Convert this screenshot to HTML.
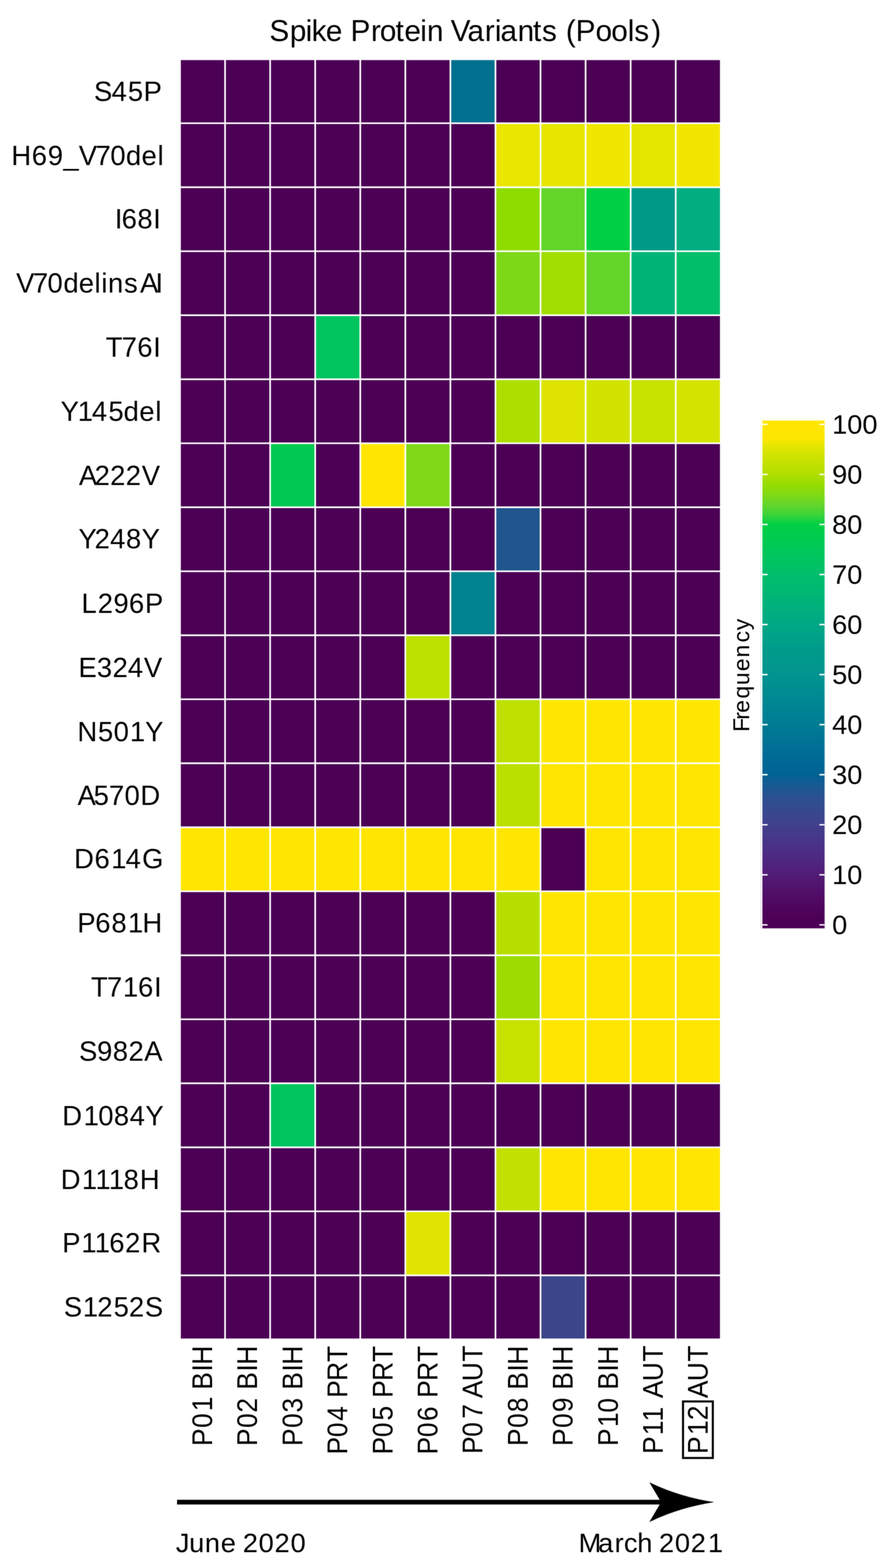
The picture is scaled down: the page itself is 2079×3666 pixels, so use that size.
<!DOCTYPE html>
<html lang="en">
<head>
<meta charset="utf-8">
<title>Spike Protein Variants (Pools)</title>
<style>
html,body{margin:0;padding:0;background:#fff;}
body{width:2079px;height:3666px;overflow:hidden;}
svg{display:block;}
text{font-family:"Liberation Sans",sans-serif;fill:#000;font-kerning:none;}
</style>
</head>
<body>
<svg width="2079" height="3666" viewBox="0 0 2079 3666">
<defs><filter id="soft" filterUnits="userSpaceOnUse" x="0" y="0" width="2079" height="3666" color-interpolation-filters="sRGB"><feConvolveMatrix order="3" kernelMatrix="1 2 1 2 4 2 1 2 1" divisor="16" edgeMode="duplicate" preserveAlpha="true"/></filter></defs>
<g filter="url(#soft)">
<rect x="-10" y="-10" width="2099" height="3686" fill="#fff"/>
<text x="629.99 677.64 714.70 728.68 761.99 800.64 819.85 867.40 888.27 925.07 945.79 982.85 998.42 1037.08 1053.97 1093.15 1133.65 1157.15 1170.60 1210.57 1246.57 1267.46 1302.21 1323.13 1346.15 1392.67 1429.52 1467.96 1483.36 1522.93" y="95.70" font-size="69.50">Spike Protein Variants (Pools)</text>
<g id="heatmap">
<rect x="420.95" y="138.46" width="1264.68" height="2992.92" fill="#4B0055"/>
<rect x="1053.29" y="138.46" width="105.39" height="149.65" fill="#00708F"/>
<rect x="1158.68" y="288.11" width="105.39" height="149.65" fill="#EBE600"/>
<rect x="1264.07" y="288.11" width="105.39" height="149.65" fill="#E6E600"/>
<rect x="1369.46" y="288.11" width="105.39" height="149.65" fill="#F0E600"/>
<rect x="1474.85" y="288.11" width="105.39" height="149.65" fill="#E4E600"/>
<rect x="1580.24" y="288.11" width="105.39" height="149.65" fill="#F2E600"/>
<rect x="1158.68" y="437.75" width="105.39" height="149.65" fill="#8FDC00"/>
<rect x="1264.07" y="437.75" width="105.39" height="149.65" fill="#64D62A"/>
<rect x="1369.46" y="437.75" width="105.39" height="149.65" fill="#00D045"/>
<rect x="1474.85" y="437.75" width="105.39" height="149.65" fill="#009987"/>
<rect x="1580.24" y="437.75" width="105.39" height="149.65" fill="#00AE80"/>
<rect x="1158.68" y="587.40" width="105.39" height="149.65" fill="#7DD918"/>
<rect x="1264.07" y="587.40" width="105.39" height="149.65" fill="#A2DE00"/>
<rect x="1369.46" y="587.40" width="105.39" height="149.65" fill="#64D62A"/>
<rect x="1474.85" y="587.40" width="105.39" height="149.65" fill="#00B478"/>
<rect x="1580.24" y="587.40" width="105.39" height="149.65" fill="#00BE6A"/>
<rect x="737.12" y="737.04" width="105.39" height="149.65" fill="#00C45E"/>
<rect x="1158.68" y="886.69" width="105.39" height="149.65" fill="#ADDE00"/>
<rect x="1264.07" y="886.69" width="105.39" height="149.65" fill="#DEE400"/>
<rect x="1369.46" y="886.69" width="105.39" height="149.65" fill="#D2E300"/>
<rect x="1474.85" y="886.69" width="105.39" height="149.65" fill="#C8E200"/>
<rect x="1580.24" y="886.69" width="105.39" height="149.65" fill="#D4E300"/>
<rect x="631.73" y="1036.34" width="105.39" height="149.65" fill="#00C850"/>
<rect x="842.51" y="1036.34" width="105.39" height="149.65" fill="#FFE600"/>
<rect x="947.90" y="1036.34" width="105.39" height="149.65" fill="#7FD919"/>
<rect x="1158.68" y="1185.98" width="105.39" height="149.65" fill="#20568E"/>
<rect x="1053.29" y="1335.63" width="105.39" height="149.65" fill="#008291"/>
<rect x="947.90" y="1485.27" width="105.39" height="149.65" fill="#BCE000"/>
<rect x="1158.68" y="1634.92" width="105.39" height="149.65" fill="#BEE000"/>
<rect x="1264.07" y="1634.92" width="105.39" height="149.65" fill="#FFE600"/>
<rect x="1369.46" y="1634.92" width="105.39" height="149.65" fill="#FFE600"/>
<rect x="1474.85" y="1634.92" width="105.39" height="149.65" fill="#FFE600"/>
<rect x="1580.24" y="1634.92" width="105.39" height="149.65" fill="#FFE600"/>
<rect x="1158.68" y="1784.57" width="105.39" height="149.65" fill="#BAE000"/>
<rect x="1264.07" y="1784.57" width="105.39" height="149.65" fill="#FFE600"/>
<rect x="1369.46" y="1784.57" width="105.39" height="149.65" fill="#FFE600"/>
<rect x="1474.85" y="1784.57" width="105.39" height="149.65" fill="#FFE600"/>
<rect x="1580.24" y="1784.57" width="105.39" height="149.65" fill="#FFE600"/>
<rect x="420.95" y="1934.21" width="105.39" height="149.65" fill="#FFE600"/>
<rect x="526.34" y="1934.21" width="105.39" height="149.65" fill="#FFE600"/>
<rect x="631.73" y="1934.21" width="105.39" height="149.65" fill="#FFE600"/>
<rect x="737.12" y="1934.21" width="105.39" height="149.65" fill="#FFE600"/>
<rect x="842.51" y="1934.21" width="105.39" height="149.65" fill="#FFE600"/>
<rect x="947.90" y="1934.21" width="105.39" height="149.65" fill="#FFE600"/>
<rect x="1053.29" y="1934.21" width="105.39" height="149.65" fill="#FFE600"/>
<rect x="1158.68" y="1934.21" width="105.39" height="149.65" fill="#FFE600"/>
<rect x="1369.46" y="1934.21" width="105.39" height="149.65" fill="#FFE600"/>
<rect x="1474.85" y="1934.21" width="105.39" height="149.65" fill="#FFE600"/>
<rect x="1580.24" y="1934.21" width="105.39" height="149.65" fill="#FFE600"/>
<rect x="1158.68" y="2083.86" width="105.39" height="149.65" fill="#B6DF00"/>
<rect x="1264.07" y="2083.86" width="105.39" height="149.65" fill="#FFE600"/>
<rect x="1369.46" y="2083.86" width="105.39" height="149.65" fill="#FFE600"/>
<rect x="1474.85" y="2083.86" width="105.39" height="149.65" fill="#FFE600"/>
<rect x="1580.24" y="2083.86" width="105.39" height="149.65" fill="#FFE600"/>
<rect x="1158.68" y="2233.50" width="105.39" height="149.65" fill="#9CDC00"/>
<rect x="1264.07" y="2233.50" width="105.39" height="149.65" fill="#FFE600"/>
<rect x="1369.46" y="2233.50" width="105.39" height="149.65" fill="#FFE600"/>
<rect x="1474.85" y="2233.50" width="105.39" height="149.65" fill="#FFE600"/>
<rect x="1580.24" y="2233.50" width="105.39" height="149.65" fill="#FFE600"/>
<rect x="1158.68" y="2383.15" width="105.39" height="149.65" fill="#C8E200"/>
<rect x="1264.07" y="2383.15" width="105.39" height="149.65" fill="#FFE600"/>
<rect x="1369.46" y="2383.15" width="105.39" height="149.65" fill="#FFE600"/>
<rect x="1474.85" y="2383.15" width="105.39" height="149.65" fill="#FFE600"/>
<rect x="1580.24" y="2383.15" width="105.39" height="149.65" fill="#FFE600"/>
<rect x="631.73" y="2532.80" width="105.39" height="149.65" fill="#00C45E"/>
<rect x="1158.68" y="2682.44" width="105.39" height="149.65" fill="#C2E100"/>
<rect x="1264.07" y="2682.44" width="105.39" height="149.65" fill="#FFE600"/>
<rect x="1369.46" y="2682.44" width="105.39" height="149.65" fill="#FFE600"/>
<rect x="1474.85" y="2682.44" width="105.39" height="149.65" fill="#FFE600"/>
<rect x="1580.24" y="2682.44" width="105.39" height="149.65" fill="#FFE600"/>
<rect x="947.90" y="2832.09" width="105.39" height="149.65" fill="#E0E400"/>
<rect x="1264.07" y="2981.73" width="105.39" height="149.65" fill="#3B468B"/>
<path d="M420.95 134.56V3135.28M526.34 134.56V3135.28M631.73 134.56V3135.28M737.12 134.56V3135.28M842.51 134.56V3135.28M947.90 134.56V3135.28M1053.29 134.56V3135.28M1158.68 134.56V3135.28M1264.07 134.56V3135.28M1369.46 134.56V3135.28M1474.85 134.56V3135.28M1580.24 134.56V3135.28M1685.63 134.56V3135.28M417.05 138.46H1689.53M417.05 288.11H1689.53M417.05 437.75H1689.53M417.05 587.40H1689.53M417.05 737.04H1689.53M417.05 886.69H1689.53M417.05 1036.34H1689.53M417.05 1185.98H1689.53M417.05 1335.63H1689.53M417.05 1485.27H1689.53M417.05 1634.92H1689.53M417.05 1784.57H1689.53M417.05 1934.21H1689.53M417.05 2083.86H1689.53M417.05 2233.50H1689.53M417.05 2383.15H1689.53M417.05 2532.80H1689.53M417.05 2682.44H1689.53M417.05 2832.09H1689.53M417.05 2981.73H1689.53M417.05 3131.38H1689.53" fill="none" stroke="#fff" stroke-width="3.90"/>
</g>
<g id="ylabels" font-size="64.20">
<text x="219.86 261.01 299.00 335.86" y="236.00">S45P</text>
<text x="26.42 74.35 111.78 148.30 184.15 223.30 257.92 294.52 331.06 368.45" y="385.70">H69_V70del</text>
<text x="268.38 284.48 321.20 358.28" y="534.05">I68I</text>
<text x="37.74 76.89 111.11 148.37 184.25 221.12 237.07 252.39 290.00 327.44 363.42" y="683.85">V70delinsAI</text>
<text x="247.37 284.62 321.04 358.31" y="834.05">T76I</text>
<text x="141.80 181.84 214.85 253.46 288.94 325.78 363.21" y="984.05">Y145del</text>
<text x="184.48 221.25 257.42 294.02 331.54" y="1134.05">A222V</text>
<text x="183.59 221.25 257.44 294.47 331.36" y="1282.30">Y248Y</text>
<text x="190.49 228.40 265.29 301.39 338.90" y="1432.50">L296P</text>
<text x="183.59 226.53 263.22 298.96 336.45" y="1582.50">E324V</text>
<text x="181.09 228.91 265.72 303.63 339.13" y="1732.50">N501Y</text>
<text x="181.27 218.91 254.71 291.17 328.22" y="1882.30">A570D</text>
<text x="173.31 221.04 259.88 293.78 332.33" y="2030.35">D614G</text>
<text x="180.86 222.82 260.54 299.16 333.05" y="2179.90">P681H</text>
<text x="212.82 249.97 287.56 322.82 360.37" y="2330.10">T716I</text>
<text x="184.68 227.07 263.75 300.45 337.34" y="2480.10">S982A</text>
<text x="145.45 195.59 229.74 266.34 303.15 340.02" y="2630.55">D1084Y</text>
<text x="141.88 191.48 223.27 254.52 289.11 326.89" y="2779.95">D1118H</text>
<text x="145.60 190.23 221.48 255.41 292.50 330.85" y="2928.15">P1162R</text>
<text x="149.23 193.81 227.50 265.78 301.61 338.69" y="3078.30">S1252S</text>
</g>
<g id="xlabels" font-size="61.60">
<text transform="translate(496.04,0) rotate(-90) scale(1,1.0747)" x="-3380.75 -3338.63 -3299.60 -3265.35 -3248.90 -3206.66 -3190.71" y="0">P01 BIH</text>
<text transform="translate(601.43,0) rotate(-90) scale(1,1.0747)" x="-3380.75 -3338.63 -3302.68 -3268.42 -3248.90 -3206.66 -3190.71" y="0">P02 BIH</text>
<text transform="translate(706.82,0) rotate(-90) scale(1,1.0747)" x="-3380.75 -3338.63 -3302.50 -3268.24 -3248.90 -3206.66 -3190.71" y="0">P03 BIH</text>
<text transform="translate(812.22,0) rotate(-90) scale(1,1.0747)" x="-3400.60 -3360.08 -3321.93 -3287.67 -3268.10 -3228.39 -3184.45" y="0">P04 PRT</text>
<text transform="translate(917.60,0) rotate(-90) scale(1,1.0747)" x="-3400.60 -3360.08 -3321.37 -3287.11 -3268.10 -3228.39 -3184.45" y="0">P05 PRT</text>
<text transform="translate(1023.00,0) rotate(-90) scale(1,1.0747)" x="-3400.60 -3360.08 -3322.39 -3288.13 -3268.10 -3228.39 -3184.45" y="0">P06 PRT</text>
<text transform="translate(1128.38,0) rotate(-90) scale(1,1.0747)" x="-3399.20 -3359.33 -3317.06 -3282.80 -3268.79 -3229.29 -3183.45" y="0">P07 AUT</text>
<text transform="translate(1233.78,0) rotate(-90) scale(1,1.0747)" x="-3380.75 -3338.63 -3301.73 -3267.47 -3248.90 -3206.66 -3190.71" y="0">P08 BIH</text>
<text transform="translate(1339.17,0) rotate(-90) scale(1,1.0747)" x="-3380.75 -3338.63 -3301.46 -3267.21 -3248.90 -3206.66 -3190.71" y="0">P09 BIH</text>
<text transform="translate(1444.56,0) rotate(-90) scale(1,1.0747)" x="-3380.75 -3336.60 -3302.88 -3268.62 -3248.90 -3206.66 -3190.71" y="0">P10 BIH</text>
<text transform="translate(1549.95,0) rotate(-90) scale(1,1.0747)" x="-3399.20 -3355.50 -3323.40 -3289.15 -3268.79 -3229.29 -3183.45" y="0">P11 AUT</text>
<text transform="translate(1655.34,0) rotate(-90) scale(1,1.0747)" x="-3399.20 -3355.10 -3320.38 -3286.12 -3268.79 -3229.29 -3183.45" y="0">P12 AUT</text>
<rect x="1597.3" y="3276.6" width="69.7" height="132.2" fill="none" stroke="#000" stroke-width="4.8"/>
</g>
<defs><linearGradient id="cb" gradientUnits="userSpaceOnUse" x1="0" y1="2162.30" x2="0" y2="992.20">
<stop offset="0.0000" stop-color="#4B0055"/>
<stop offset="0.0300" stop-color="#4E025A"/>
<stop offset="0.0500" stop-color="#500A63"/>
<stop offset="0.1000" stop-color="#521C76"/>
<stop offset="0.1500" stop-color="#4C2E86"/>
<stop offset="0.2000" stop-color="#41408D"/>
<stop offset="0.2500" stop-color="#2E4F90"/>
<stop offset="0.2800" stop-color="#165A92"/>
<stop offset="0.3000" stop-color="#006294"/>
<stop offset="0.3500" stop-color="#006E96"/>
<stop offset="0.4000" stop-color="#007C94"/>
<stop offset="0.4500" stop-color="#008892"/>
<stop offset="0.5000" stop-color="#009490"/>
<stop offset="0.5500" stop-color="#009B8B"/>
<stop offset="0.6000" stop-color="#00A886"/>
<stop offset="0.6500" stop-color="#00B478"/>
<stop offset="0.7000" stop-color="#00BE6C"/>
<stop offset="0.7500" stop-color="#00C858"/>
<stop offset="0.8000" stop-color="#00D045"/>
<stop offset="0.8200" stop-color="#3CD438"/>
<stop offset="0.8400" stop-color="#64D62A"/>
<stop offset="0.8600" stop-color="#80DA14"/>
<stop offset="0.8800" stop-color="#98DC00"/>
<stop offset="0.9000" stop-color="#B0DF00"/>
<stop offset="0.9500" stop-color="#DCE400"/>
<stop offset="0.9630" stop-color="#EEE600"/>
<stop offset="0.9730" stop-color="#FFE600"/>
<stop offset="1.0000" stop-color="#FFE600"/>
</linearGradient></defs>
<g id="colorbar">
<rect x="1777.50" y="977.90" width="152.80" height="1193.50" fill="url(#cb)" opacity="0.09"/>
<rect x="1781.70" y="982.10" width="146.60" height="1188.30" fill="#fff"/>
<rect x="1783.00" y="983.40" width="145.30" height="1187.00" fill="url(#cb)"/>
<path d="M1783.00 2162.30h12M1928.30 2162.30h-12M1783.00 2045.29h12M1928.30 2045.29h-12M1783.00 1928.28h12M1928.30 1928.28h-12M1783.00 1811.27h12M1928.30 1811.27h-12M1783.00 1694.26h12M1928.30 1694.26h-12M1783.00 1577.25h12M1928.30 1577.25h-12M1783.00 1460.24h12M1928.30 1460.24h-12M1783.00 1343.23h12M1928.30 1343.23h-12M1783.00 1226.22h12M1928.30 1226.22h-12M1783.00 1109.21h12M1928.30 1109.21h-12M1783.00 992.20h12M1928.30 992.20h-12" fill="none" stroke="#fff" stroke-width="3.3"/>
<g font-size="63.60">
<text x="1946.0" y="2184.20">0</text>
<text x="1946.0" y="2067.19">10</text>
<text x="1946.0" y="1950.18">20</text>
<text x="1946.0" y="1833.17">30</text>
<text x="1946.0" y="1716.16">40</text>
<text x="1946.0" y="1599.15">50</text>
<text x="1946.0" y="1482.14">60</text>
<text x="1946.0" y="1365.13">70</text>
<text x="1946.0" y="1248.12">80</text>
<text x="1946.0" y="1131.11">90</text>
<text x="1946.0" y="1014.10">100</text>
</g>
<text transform="translate(1752.20,0) rotate(-90)" x="-1711.35 -1682.66 -1666.60 -1633.32 -1601.67 -1569.15 -1537.34 -1502.03 -1473.61" y="0" font-size="53.60">Frequency</text>
</g>
<g id="timeline">
<line x1="414" y1="3512.0" x2="1555" y2="3512.0" stroke="#000" stroke-width="10.9"/>
<path d="M1670.6 3512.1 Q1589.2 3499.8 1518.5 3465.6 L1546 3512.1 L1518.5 3558.6 Q1589.2 3524.4 1670.6 3512.1Z" fill="#000"/>
<text x="411.27 442.26 479.01 516.22 551.70 567.71 604.81 641.91 679.61" y="3628.80" font-size="63.80">June 2020</text>
<text x="1352.98 1398.80 1437.24 1458.94 1490.27 1525.75 1541.11 1578.21 1615.31 1655.55" y="3628.80" font-size="63.80">March 2021</text>
</g>
</g>
</svg>
</body>
</html>
